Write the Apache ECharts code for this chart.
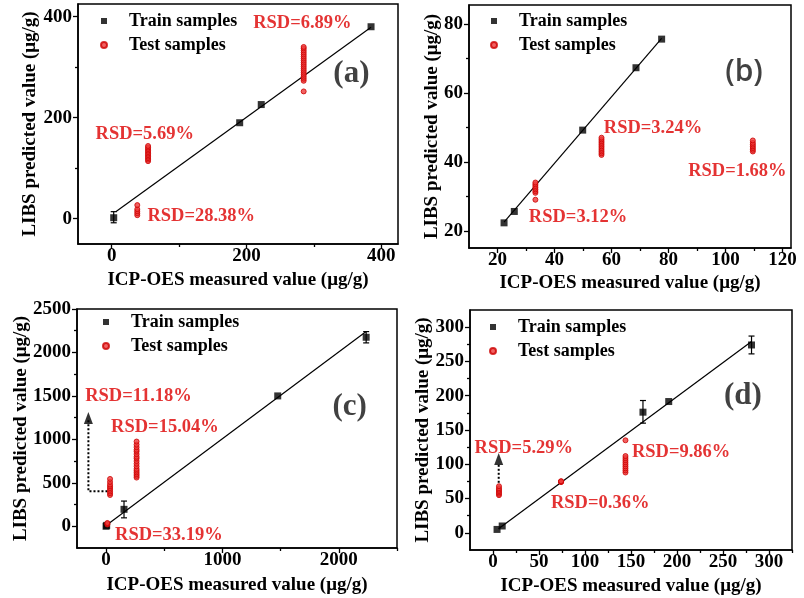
<!DOCTYPE html>
<html><head><meta charset="utf-8">
<script src="https://cdn.jsdelivr.net/npm/echarts@6/dist/echarts.min.js"></script>
<style>html,body{margin:0;padding:0;background:#fff}#c{width:804px;height:598px}</style>
</head><body><div id="c"></div>
<script>
const SERIF = 'Liberation Serif';
const RED = '#dd0000';
const AXIS_X_NAME = 'ICP-OES measured value (μg/g)';
const AXIS_Y_NAME = 'LIBS predicted value (μg/g)';
const SERIES_NAMES = ['Train samples', 'Test samples'];

// ---------- Panel (a) ----------
const aTrain = [[3,2],[190,190],[222,226],[385,380]];
const aTrainErr = [[3,-8,14]];
const aTest = [[38,7],[38,11],[38,15],[38,19],[38,27],
  [54,114],[54,117],[54,120],[54,123],[54,126],[54,129],[54,132],[54,135],[54,138],[54,141],[54,144],
  [285,252],[285,273],[285,277],[285,281],[285,285],[285,289],[285,293],[285,297],[285,301],[285,305],
  [285,309],[285,313],[285,317],[285,321],[285,325],[285,329],[285,333],[285,337],[285,340]];
const aFit = [[6,14],[385,379]];
const aXMajor = [0,200,400], aXMinor = [100,300];
const aYMajor = [0,200,400], aYMinor = [100,300];
const aNotes = [[210,386,'RSD=6.89%'],[-24,168,'RSD=5.69%'],[53,4,'RSD=28.38%']];
const aTag = [[329,287,'(a)']];

// ---------- Panel (b) ----------
const bTrain = [[22.3,22.3],[25.9,25.6],[49.9,49.2],[68.6,67.3],[77.6,75.6]];
const bTrainErr = [];
const bTest = [[33.3,29],[33.3,31],[33.3,31.5],[33.3,32],[33.3,32.5],[33.3,33],[33.3,33.5],[33.3,34],
  [56.5,42],[56.5,42.5],[56.5,43],[56.5,43.5],[56.5,44],[56.5,44.5],[56.5,45],[56.5,45.5],[56.5,46],[56.5,46.5],[56.5,47],
  [109.6,43],[109.6,43.5],[109.6,44],[109.6,44.5],[109.6,45],[109.6,45.5],[109.6,46.2]];
const bFit = [[22.3,22.5],[77.6,75.8]];
const bXMajor = [20,40,60,80,100,120], bXMinor = [30,50,70,90,110];
const bYMajor = [20,40,60,80], bYMinor = [30,50,70];
const bNotes = [[57.3,49.8,'RSD=3.24%'],[86.9,37.2,'RSD=1.68%'],[31,23.8,'RSD=3.12%']];
const bTag = [[99.9,65.8,'(b)']];

// ---------- Panel (c) ----------
const cTrain = [[0,0],[5,10],[154,195],[1475,1500],[2235,2175]];
const cTrainErr = [[154,97,290],[2235,2110,2240]];
const cTest = [[11,20],[11,30],[11,38],
  [34,360],[34,380],[34,400],[34,420],[34,440],[34,460],[34,480],[34,510],[34,545],
  [262,560],[262,580],[262,600],[262,620],[262,640],[262,660],[262,690],[262,720],[262,750],
  [262,780],[262,800],[262,830],[262,860],[262,880],[262,910],[262,940],[262,975]];
const cFit = [[0,10],[2235,2240]];
const cXMajor = [0,1000,2000], cXMinor = [500,1500,2500];
const cYMajor = [0,500,1000,1500,2000,2500], cYMinor = [250,750,1250,1750,2250];
const cNotes = [[-180,1496,'RSD=11.18%'],[43,1138,'RSD=15.04%'],[77,-107,'RSD=33.19%']];
const cTag = [[1946,1369,'(c)']];
const cArrow = [[12,404],[-152,404],[-152,1220]];
const cArrowTip = [[-152,1315]];

// ---------- Panel (d) ----------
const dTrain = [[4.4,5],[10,10],[163,176],[191,191.5],[281,274]];
const dTrainErr = [[163,160,193],[281,261,287]];
const dTest = [[6.5,55],[6.5,57],[6.5,59],[6.5,61],[6.5,63],[6.5,65],[6.5,68],
  [74,74],[74,74.5],[74,75],[74,75.3],
  [144,88],[144,91],[144,94],[144,97],[144,100],[144,103],[144,106],[144,109],[144,112],[144,135]];
const dFit = [[6,6],[281,279]];
const dXMajor = [0,50,100,150,200,250,300], dXMinor = [25,75,125,175,225,275,325];
const dYMajor = [0,50,100,150,200,250,300], dYMinor = [25,75,125,175,225,275];
const dNotes = [[-20,123,'RSD=5.29%'],[151,118,'RSD=9.86%'],[63,43,'RSD=0.36%']];
const dTag = [[251,199,'(d)']];
const dArrow = [[6.2,73],[6.2,102]];
const dArrowTip = [[6.2,116.5]];

const panels = [
  {grid:{left:78,top:4,width:320,height:240}, xr:[-50,425], yr:[-50,425],
   xMaj:aXMajor, xMin:aXMinor, yMaj:aYMajor, yMin:aYMinor, xGap:27, yGap:38,
   train:aTrain, err:aTrainErr, test:aTest, fit:aFit, notes:aNotes, tag:aTag,
   tagFont:{fontFamily:SERIF, fontWeight:'bold', fontSize:31}, legend:{left:100, top:12}},
  {grid:{left:469,top:5,width:322,height:243}, xr:[10,123], yr:[15,85.5],
   xMaj:bXMajor, xMin:bXMinor, yMaj:bYMajor, yMin:bYMinor, xGap:26, yGap:27,
   train:bTrain, err:bTrainErr, test:bTest, fit:bFit, notes:bNotes, tag:bTag,
   tagFont:{fontFamily:'Open Sans', fontWeight:600, fontSize:30}, legend:{left:490, top:12}},
  {grid:{left:77,top:309,width:320,height:239}, xr:[-250,2500], yr:[-250,2500],
   xMaj:cXMajor, xMin:cXMinor, yMaj:cYMajor, yMin:cYMinor, xGap:28, yGap:46,
   train:cTrain, err:cTrainErr, test:cTest, fit:cFit, notes:cNotes, tag:cTag,
   tagFont:{fontFamily:SERIF, fontWeight:'bold', fontSize:31}, legend:{left:102, top:313},
   arrow:cArrow, tip:cArrowTip},
  {grid:{left:470,top:310,width:322,height:240}, xr:[-25,325], yr:[-25,325],
   xMaj:dXMajor, xMin:dXMinor, yMaj:dYMajor, yMin:dYMinor, xGap:27, yGap:37,
   train:dTrain, err:dTrainErr, test:dTest, fit:dFit, notes:dNotes, tag:dTag,
   tagFont:{fontFamily:SERIF, fontWeight:'bold', fontSize:31}, legend:{left:489, top:318},
   arrow:dArrow, tip:dArrowTip}
];

const option = {animation:false, backgroundColor:'#fff', grid:[], xAxis:[], yAxis:[], series:[], legend:[]};
const labelFont = {fontFamily:SERIF, fontWeight:'bold', fontSize:19, color:'#000'};
const plain = v => String(v);

panels.forEach((P, i) => {
  option.grid.push(Object.assign({show:true, borderColor:'#000', borderWidth:1.5, backgroundColor:'transparent'}, P.grid));
  const xi = option.xAxis.length, yi = option.yAxis.length;
  option.xAxis.push({type:'value', gridIndex:i, position:'bottom', min:P.xr[0], max:P.xr[1],
    name:AXIS_X_NAME, nameLocation:'middle', nameGap:P.xGap, nameMoveOverlap:false, nameTextStyle:labelFont,
    axisLine:{show:true, onZero:false, lineStyle:{color:'#000', width:1.5}},
    axisTick:{show:true, customValues:P.xMaj, length:5, lineStyle:{color:'#000', width:1.3}},
    axisLabel:Object.assign({show:true, customValues:P.xMaj, margin:3, formatter:plain}, labelFont),
    splitLine:{show:false}});
  option.xAxis.push({type:'value', gridIndex:i, position:'bottom', min:P.xr[0], max:P.xr[1],
    axisLine:{show:false, onZero:false},
    axisTick:{show:true, customValues:P.xMin, length:3, lineStyle:{color:'#000', width:1.3}},
    axisLabel:{show:false}, splitLine:{show:false}});
  option.yAxis.push({type:'value', gridIndex:i, position:'left', min:P.yr[0], max:P.yr[1],
    name:AXIS_Y_NAME, nameLocation:'middle', nameGap:P.yGap, nameMoveOverlap:false, nameTextStyle:labelFont,
    axisLine:{show:true, onZero:false, lineStyle:{color:'#000', width:1.5}},
    axisTick:{show:true, customValues:P.yMaj, length:5, lineStyle:{color:'#000', width:1.3}},
    axisLabel:Object.assign({show:true, customValues:P.yMaj, margin:6, formatter:plain}, labelFont),
    splitLine:{show:false}});
  option.yAxis.push({type:'value', gridIndex:i, position:'left', min:P.yr[0], max:P.yr[1],
    axisLine:{show:false, onZero:false},
    axisTick:{show:true, customValues:P.yMin, length:3, lineStyle:{color:'#000', width:1.3}},
    axisLabel:{show:false}, splitLine:{show:false}});
  const ax = {xAxisIndex:xi, yAxisIndex:yi};

  option.series.push(Object.assign({type:'line', data:P.fit, symbol:'none', silent:true,
    lineStyle:{color:'#000', width:1.2}, z:2}, ax));
  if (P.err.length) option.series.push(Object.assign({type:'custom', data:P.err, encode:{x:0, y:[1,2]}, z:3,
    renderItem:(params, api) => {
      const x = api.value(0), lo = api.value(1), hi = api.value(2);
      const a = api.coord([x, lo]), b = api.coord([x, hi]);
      const st = {stroke:'#000', lineWidth:1.2};
      return {type:'group', children:[
        {type:'line', shape:{x1:a[0], y1:a[1], x2:b[0], y2:b[1]}, style:st},
        {type:'line', shape:{x1:a[0]-3, y1:a[1], x2:a[0]+3, y2:a[1]}, style:st},
        {type:'line', shape:{x1:b[0]-3, y1:b[1], x2:b[0]+3, y2:b[1]}, style:st}]};
    }}, ax));
  option.series.push(Object.assign({type:'scatter', name:SERIES_NAMES[0], data:P.train, symbol:'rect', symbolSize:7,
    itemStyle:{color:'#000'}, z:4}, ax));
  option.series.push(Object.assign({type:'scatter', name:SERIES_NAMES[1], data:P.test, symbol:'circle', symbolSize:5,
    itemStyle:{color:'#ee3b3b', borderColor:'#cc0000', borderWidth:1}, z:5}, ax));
  if (P.arrow) {
    option.series.push(Object.assign({type:'line', data:P.arrow, symbol:'none', silent:true,
      lineStyle:{color:'#000', width:2, type:'dotted'}, z:3}, ax));
    option.series.push(Object.assign({type:'scatter', data:P.tip, symbol:'triangle', symbolSize:[9,12],
      symbolOffset:[0,'50%'], itemStyle:{color:'#000'}, silent:true, z:3}, ax));
  }
  option.series.push(Object.assign({type:'scatter', symbolSize:0, silent:true, z:6,
    data:P.notes.map(n => ({name:n[2], value:[n[0], n[1]]})),
    label:{show:true, position:[0,0], align:'left', verticalAlign:'middle', formatter:'{b}',
      fontFamily:SERIF, fontWeight:'bold', fontSize:18.5, color:RED}}, ax));
  option.series.push(Object.assign({type:'scatter', symbolSize:0, silent:true, z:6,
    data:P.tag.map(n => ({name:n[2], value:[n[0], n[1]]})),
    label:Object.assign({show:true, position:[0,0], align:'left', verticalAlign:'middle', formatter:'{b}', color:'#111'}, P.tagFont)}, ax));

  option.legend.push({orient:'vertical', left:P.legend.left, top:P.legend.top, padding:0, itemGap:6,
    itemWidth:40, itemHeight:6, symbolKeepAspect:true, selectedMode:false,
    textStyle:{fontFamily:SERIF, fontWeight:'bold', fontSize:18, color:'#000'},
    data:[{name:SERIES_NAMES[0], icon:'path://M0,0L10,0L10,10L0,10Z'}, {name:SERIES_NAMES[1], icon:'circle'}]});
});

const chart = echarts.init(document.getElementById('c'), null, {renderer:'canvas'});
chart.setOption(option);
</script>
</body></html>
